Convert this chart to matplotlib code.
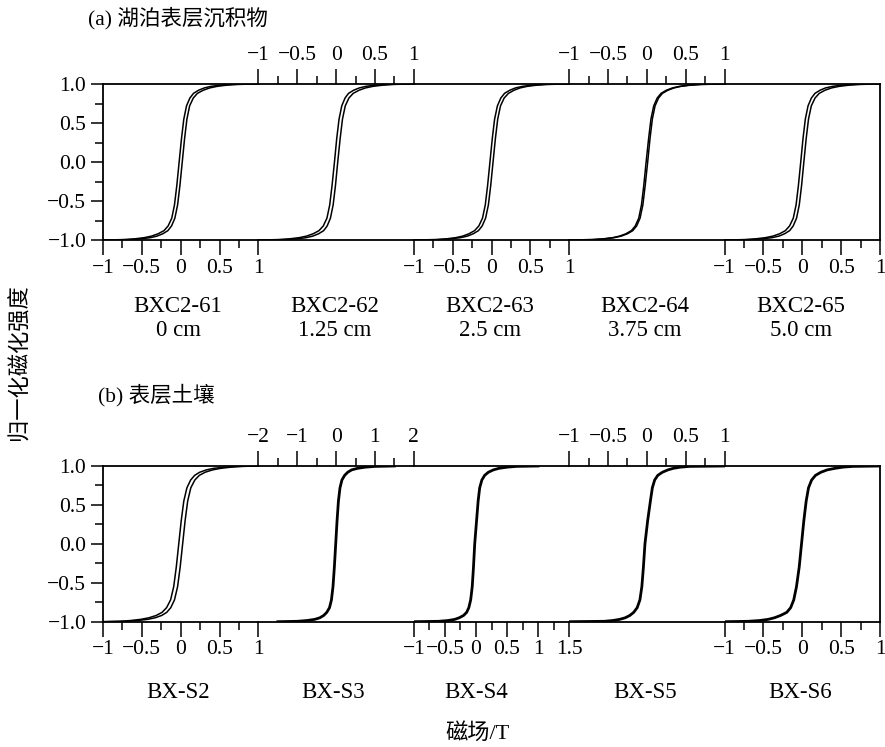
import numpy as np
import matplotlib.pyplot as plt
from matplotlib.ticker import MultipleLocator, FuncFormatter

plt.rcParams['font.family'] = ['Liberation Serif', 'Noto Sans CJK SC']
plt.rcParams['axes.unicode_minus'] = True

# normalised magnetisation levels; each loop branch gives the field (T) at these levels
m_levels = [-1.0, -0.995, -0.985, -0.97, -0.95, -0.92, -0.88, -0.82, -0.72, -0.55, -0.3, 0.0,
            0.3, 0.55, 0.72, 0.82, 0.88, 0.92, 0.95, 0.97, 0.985, 0.995, 1.0]

# (a) lake surface sediments, ascending and descending branches
h_up_61 = [-1.0, -0.67, -0.51, -0.39, -0.305, -0.23, -0.165, -0.118, -0.075, -0.04, -0.01, 0.02,
           0.05, 0.08, 0.115, 0.162, 0.215, 0.29, 0.375, 0.47, 0.59, 0.73, 1.0]
h_dn_61 = [-1.0, -0.73, -0.59, -0.47, -0.375, -0.29, -0.215, -0.162, -0.115, -0.08, -0.05, -0.02,
           0.01, 0.04, 0.075, 0.118, 0.165, 0.23, 0.305, 0.39, 0.51, 0.67, 1.0]
h_up_62 = [-1.0, -0.66, -0.5, -0.385, -0.3, -0.225, -0.16, -0.115, -0.073, -0.038, -0.008, 0.021,
           0.052, 0.082, 0.118, 0.165, 0.22, 0.295, 0.38, 0.475, 0.6, 0.74, 1.0]
h_dn_62 = [-1.0, -0.74, -0.6, -0.475, -0.38, -0.295, -0.22, -0.165, -0.118, -0.082, -0.052, -0.021,
           0.008, 0.038, 0.073, 0.115, 0.16, 0.225, 0.3, 0.385, 0.5, 0.66, 1.0]
h_up_63 = [-1.0, -0.68, -0.52, -0.4, -0.31, -0.235, -0.168, -0.12, -0.076, -0.04, -0.01, 0.02,
           0.05, 0.08, 0.116, 0.163, 0.218, 0.29, 0.37, 0.46, 0.58, 0.72, 1.0]
h_dn_63 = [-1.0, -0.72, -0.58, -0.46, -0.37, -0.29, -0.218, -0.163, -0.116, -0.08, -0.05, -0.02,
           0.01, 0.04, 0.076, 0.12, 0.168, 0.235, 0.31, 0.4, 0.52, 0.68, 1.0]
h_up_64 = [-1.0, -0.69, -0.54, -0.42, -0.33, -0.25, -0.182, -0.132, -0.088, -0.052, -0.022, 0.01,
           0.04, 0.07, 0.105, 0.15, 0.2, 0.27, 0.35, 0.44, 0.56, 0.71, 1.0]
h_dn_64 = [-1.0, -0.71, -0.56, -0.44, -0.35, -0.27, -0.2, -0.15, -0.105, -0.07, -0.04, -0.01,
           0.022, 0.052, 0.088, 0.132, 0.182, 0.25, 0.33, 0.42, 0.54, 0.69, 1.0]
h_up_65 = [-1.0, -0.67, -0.51, -0.39, -0.3, -0.228, -0.163, -0.117, -0.074, -0.039, -0.009, 0.02,
           0.05, 0.08, 0.116, 0.164, 0.218, 0.292, 0.378, 0.475, 0.6, 0.74, 1.0]
h_dn_65 = [-1.0, -0.74, -0.6, -0.475, -0.378, -0.292, -0.218, -0.164, -0.116, -0.08, -0.05, -0.02,
           0.009, 0.039, 0.074, 0.117, 0.163, 0.228, 0.3, 0.39, 0.51, 0.67, 1.0]

# (b) surface soils; S3-S6 loops are closed, one branch each
h_up_s2 = [-1.0, -0.71, -0.555, -0.425, -0.33, -0.245, -0.18, -0.128, -0.08, -0.04, -0.007, 0.025,
           0.057, 0.09, 0.13, 0.182, 0.24, 0.315, 0.41, 0.515, 0.645, 0.79, 1.0]
h_dn_s2 = [-1.0, -0.79, -0.645, -0.515, -0.41, -0.315, -0.24, -0.182, -0.13, -0.09, -0.057, -0.025,
           0.007, 0.04, 0.08, 0.128, 0.18, 0.245, 0.33, 0.425, 0.555, 0.71, 1.0]
h_s3 = [-1.5, -1.0, -0.75, -0.55, -0.42, -0.32, -0.24, -0.17, -0.12, -0.08, -0.045, -0.01,
        0.025, 0.06, 0.1, 0.15, 0.22, 0.3, 0.4, 0.55, 0.75, 1.0, 1.5]
h_s4 = [-1.0, -0.6, -0.45, -0.34, -0.27, -0.2, -0.15, -0.115, -0.085, -0.06, -0.04, -0.02,
        0.01, 0.035, 0.06, 0.095, 0.14, 0.2, 0.28, 0.37, 0.5, 0.65, 1.0]
h_s5 = [-1.0, -0.55, -0.44, -0.35, -0.28, -0.22, -0.17, -0.125, -0.09, -0.065, -0.045, -0.025,
        0.01, 0.045, 0.07, 0.1, 0.14, 0.2, 0.27, 0.34, 0.43, 0.55, 1.0]
h_s6 = [-1.0, -0.7, -0.55, -0.44, -0.36, -0.28, -0.2, -0.15, -0.11, -0.075, -0.04, -0.01,
        0.02, 0.05, 0.08, 0.12, 0.17, 0.24, 0.32, 0.42, 0.52, 0.65, 1.0]

lake_names = ['BXC2-61', 'BXC2-62', 'BXC2-63', 'BXC2-64', 'BXC2-65']
lake_depths = ['0 cm', '1.25 cm', '2.5 cm', '3.75 cm', '5.0 cm']
lake_loops = [[h_up_61, h_dn_61], [h_up_62, h_dn_62], [h_up_63, h_dn_63],
              [h_up_64, h_dn_64], [h_up_65, h_dn_65]]
lake_xlim = [(-1, 1), (-1, 1), (-1, 1), (-1, 1), (-1, 1)]
lake_step = [0.5, 0.5, 0.5, 0.5, 0.5]

soil_names = ['BX-S2', 'BX-S3', 'BX-S4', 'BX-S5', 'BX-S6']
soil_loops = [[h_up_s2, h_dn_s2], [h_s3], [h_s4], [h_s5], [h_s6]]
soil_xlim = [(-1, 1), (-2, 2), (-1, 1.5), (-1, 1), (-1, 1)]
soil_step = [0.5, 1, 0.5, 0.5, 0.5]

W, H = 885, 747
edges = [103, 258.4, 413.8, 569.2, 724.6, 880]
TICK_FS = 15.5


def fmt(v, pos):
    s = f'{v:g}'
    return s.replace('-', '\u2212')


def draw_row(fig, top, bottom, loops, xlims, steps, lw):
    axes = []
    for i in range(5):
        x0, x1 = edges[i], edges[i + 1]
        ax = fig.add_axes([x0 / W, 1 - bottom / H, (x1 - x0) / W, (bottom - top) / H])
        ax.patch.set_visible(False)
        ax.set_xlim(*xlims[i])
        ax.set_ylim(-1, 1)
        for side in ['top', 'bottom', 'left', 'right']:
            ax.spines[side].set_linewidth(1.3)
        ax.spines['left'].set_visible(i == 0)
        ax.spines['right'].set_visible(i == 4)

        # odd panels carry their field axis on top
        on_top = i % 2 == 1
        ax.xaxis.set_ticks_position('top' if on_top else 'bottom')
        ax.xaxis.set_label_position('top' if on_top else 'bottom')
        ax.xaxis.set_major_locator(MultipleLocator(steps[i]))
        ax.xaxis.set_minor_locator(MultipleLocator(steps[i] / 2))
        ax.xaxis.set_major_formatter(FuncFormatter(fmt))
        ax.tick_params(axis='x', which='major', length=10.5, width=1.1,
                       labelsize=TICK_FS, pad=3)
        ax.tick_params(axis='x', which='minor', length=6, width=1.1)

        if i == 0:
            ax.yaxis.set_major_locator(MultipleLocator(0.5))
            ax.yaxis.set_minor_locator(MultipleLocator(0.25))
            ax.yaxis.set_major_formatter(
                FuncFormatter(lambda v, p: f'{v:.1f}'.replace('-', '\u2212')))
            ax.tick_params(axis='y', which='major', length=9, width=1.1,
                           labelsize=TICK_FS, pad=3)
            ax.tick_params(axis='y', which='minor', length=6, width=1.1)
            ax.yaxis.set_ticks_position('left')
        else:
            ax.set_yticks([])

        for h in loops[i]:
            ax.plot(h, m_levels, color='black', lw=lw if len(loops[i]) > 1 else 2.0,
                    solid_joinstyle='round')
        axes.append(ax)
    return axes


fig = plt.figure(figsize=(W / 100, H / 100), dpi=100)

draw_row(fig, 84, 240, lake_loops, lake_xlim, lake_step, 1.1)
draw_row(fig, 466, 621.7, soil_loops, soil_xlim, soil_step, 1.1)


def put(x, y, s, **kw):
    fig.text(x / W, 1 - y / H, s, ha='center', va='center', **kw)


lake_cx = [178, 335, 490, 645, 801]
for cx, name, depth in zip(lake_cx, lake_names, lake_depths):
    put(cx, 307, name, fontsize=16.5)
    put(cx, 331, depth, fontsize=16.5)

soil_cx = [178, 333, 476, 645, 800]
for cx, name in zip(soil_cx, soil_names):
    put(cx, 693, name, fontsize=16.5)

fig.text(88 / W, 1 - 18 / H, '(a) 湖泊表层沉积物', ha='left', va='center', fontsize=15.5)
fig.text(98 / W, 1 - 395 / H, '(b) 表层土壤', ha='left', va='center', fontsize=15.5)
put(20, 362, '归一化磁化强度', fontsize=16, rotation=90)
put(477, 733, '磁场/T', fontsize=16)

fig.savefig('out.png', dpi=100)
